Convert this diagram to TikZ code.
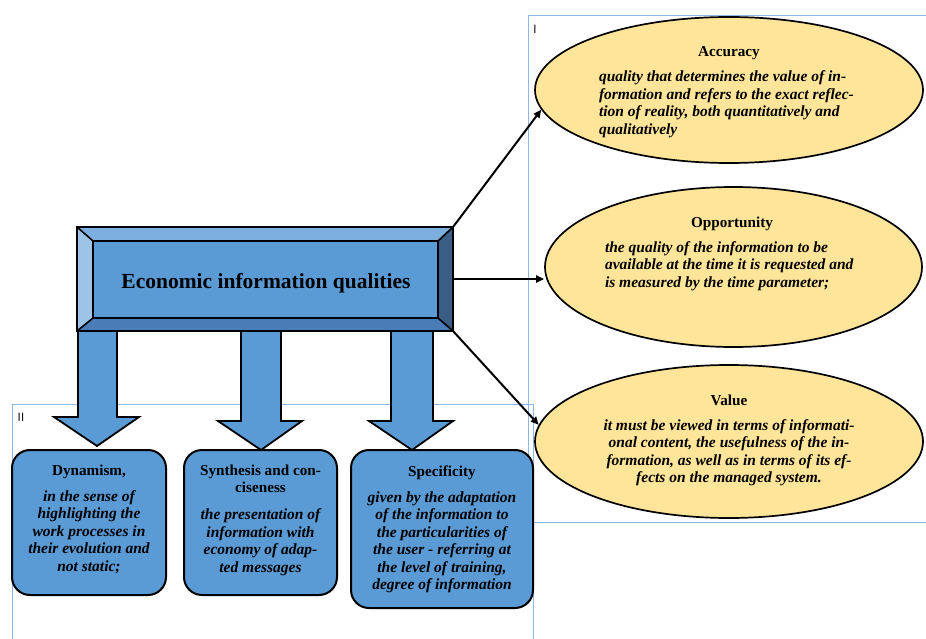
\documentclass[tikz,border=0pt]{standalone}
\usepackage{fontspec}
\setmainfont{Liberation Serif}
\usetikzlibrary{arrows.meta,shapes.geometric}
\definecolor{blu}{HTML}{5B9BD5}
\definecolor{topc}{HTML}{7CAFDE}
\definecolor{leftc}{HTML}{9DC3E6}
\definecolor{rightc}{HTML}{3A5E86}
\definecolor{botc}{HTML}{4A7DB8}
\definecolor{ellc}{HTML}{FFE599}
\definecolor{framec}{HTML}{8DB6E2}
\newcommand{\bodyf}{\fontsize{15.5}{17.5}\selectfont\bfseries\itshape}
\newcommand{\headf}{\fontsize{15.2}{17.5}\selectfont\bfseries}
\tikzset{
  txt/.style={anchor=base, inner sep=0pt, outer sep=0pt},
  ell/.style={ellipse, draw=black, fill=ellc, line width=1.7pt, inner sep=0pt},
  rbox/.style={draw=black, fill=blu, line width=2pt, rounded corners=18pt},
  barrow/.style={draw=black, fill=blu, line width=1.8pt, line join=miter},
  conn/.style={draw=black, line width=2pt, -{Triangle[length=8pt,width=7pt]}},
  frameline/.style={draw=framec, line width=0.9pt},
  face/.style={draw=black, line width=1.6pt, line join=miter},
  flabel/.style={font=\sffamily\fontsize{12}{12}\selectfont, inner sep=0pt}
}
\begin{document}
\begin{tikzpicture}[x=1pt,y=-1pt]
\useasboundingbox (0,0) rectangle (926,639);
% frames
\draw[frameline] (926,15) -- (528,15) -- (528,522) -- (926,522);
\draw[frameline] (12,639) -- (12,404) -- (533,404) -- (533,639);
\node[flabel] (lI) at (535,29) {I};
\node[flabel] (lII) at (21,417) {II};
% block arrows
\draw[barrow] (78,329) -- (117,329) -- (117,417) -- (139,417) -- (97,446) -- (54,417) -- (78,417) -- cycle;
\draw[barrow] (241,329) -- (281,329) -- (281,421) -- (302,421) -- (261,450) -- (218,421) -- (241,421) -- cycle;
\draw[barrow] (391,329) -- (433,329) -- (433,421) -- (453,421) -- (412,450) -- (369,421) -- (391,421) -- cycle;
% main beveled box
\node[minimum width=376pt, minimum height=104pt, inner sep=0pt] (main) at (265,279) {};
\coordinate (i1) at ([shift={(16,14)}]main.north west);
\coordinate (i2) at ([shift={(-15,14)}]main.north east);
\coordinate (i3) at ([shift={(-15,-13)}]main.south east);
\coordinate (i4) at ([shift={(16,-13)}]main.south west);
\fill[topc] (main.north west) -- (main.north east) -- (i2) -- (i1) -- cycle;
\fill[rightc] (main.north east) -- (main.south east) -- (i3) -- (i2) -- cycle;
\fill[botc] (main.south east) -- (main.south west) -- (i4) -- (i3) -- cycle;
\fill[leftc] (main.south west) -- (main.north west) -- (i1) -- (i4) -- cycle;
\fill[blu] (i1) rectangle (i3);
\draw[face] (i1) rectangle (i3);
\draw[face] (main.north west) -- (i1) (main.north east) -- (i2) (main.south east) -- (i3) (main.south west) -- (i4);
\draw[face, line width=2.2pt] (main.north west) rectangle (main.south east);
\node[txt] (title) at (266,288) {\fontsize{21.5}{24}\selectfont\bfseries Economic information qualities};
% ellipses
\node[ell, minimum width=388pt, minimum height=146pt] (acc) at (729,90) {};
\node[ell, minimum width=377pt, minimum height=160pt] (opp) at (733.5,267) {};
\node[ell, minimum width=388pt, minimum height=153pt] (val) at (729,441.5) {};
\node[txt] (acch) at (729,57) {\headf Accuracy};
\node[txt, anchor=base west] (accb) at (599,82) {\parbox[t]{270pt}{\raggedright\bodyf quality that determines the value of in-\\ formation and refers to the exact reflec-\\ tion of reality, both quantitatively and\\ qualitatively}};
\node[txt] (opph) at (732,227) {\headf Opportunity};
\node[txt, anchor=base west] (oppb) at (605,252) {\parbox[t]{270pt}{\raggedright\bodyf the quality of the information to be\\ available at the time it is requested and\\ is measured by the time parameter;}};
\node[txt] (valt) at (729,405) {\parbox[t]{300pt}{\centering\headf Value\par\vspace{7.5pt}\bodyf it must be viewed in terms of informati-\\ onal content, the usefulness of the in-\\ formation, as well as in terms of its ef-\\ fects on the managed system.}};
% connectors
\draw[conn] (main.north east) -- (acc.186);
\draw[conn] (main.east) -- (opp.west |- main.east);
\draw[conn] (main.south east) -- (val.175);
% bottom boxes
\node[rbox, minimum width=154pt, minimum height=145pt] (dyn) at (89,522.5) {};
\node[rbox, minimum width=153pt, minimum height=145pt] (syn) at (260.5,522.5) {};
\node[rbox, minimum width=182pt, minimum height=158pt] (spe) at (442,529) {};
\node[txt] (dynt) at (89,475) {\parbox[t]{150pt}{\centering\headf Dynamism,\par\vspace{8.5pt}\bodyf in the sense of\\ highlighting the\\ work processes in\\ their evolution and\\ not static;}};
\node[txt] (synt) at (260.5,475) {\parbox[t]{150pt}{\centering\headf Synthesis and con-\\ ciseness\par\vspace{9.5pt}\bodyf the presentation of\\ information with\\ economy of adap-\\ ted messages}};
\node[txt] (spet) at (442,476) {\parbox[t]{180pt}{\centering\headf Specificity\par\vspace{8.5pt}\bodyf given by the adaptation\\ of the information to\\ the particularities of\\ the user - referring at\\ the level of training,\\ degree of information}};
\end{tikzpicture}
\end{document}
